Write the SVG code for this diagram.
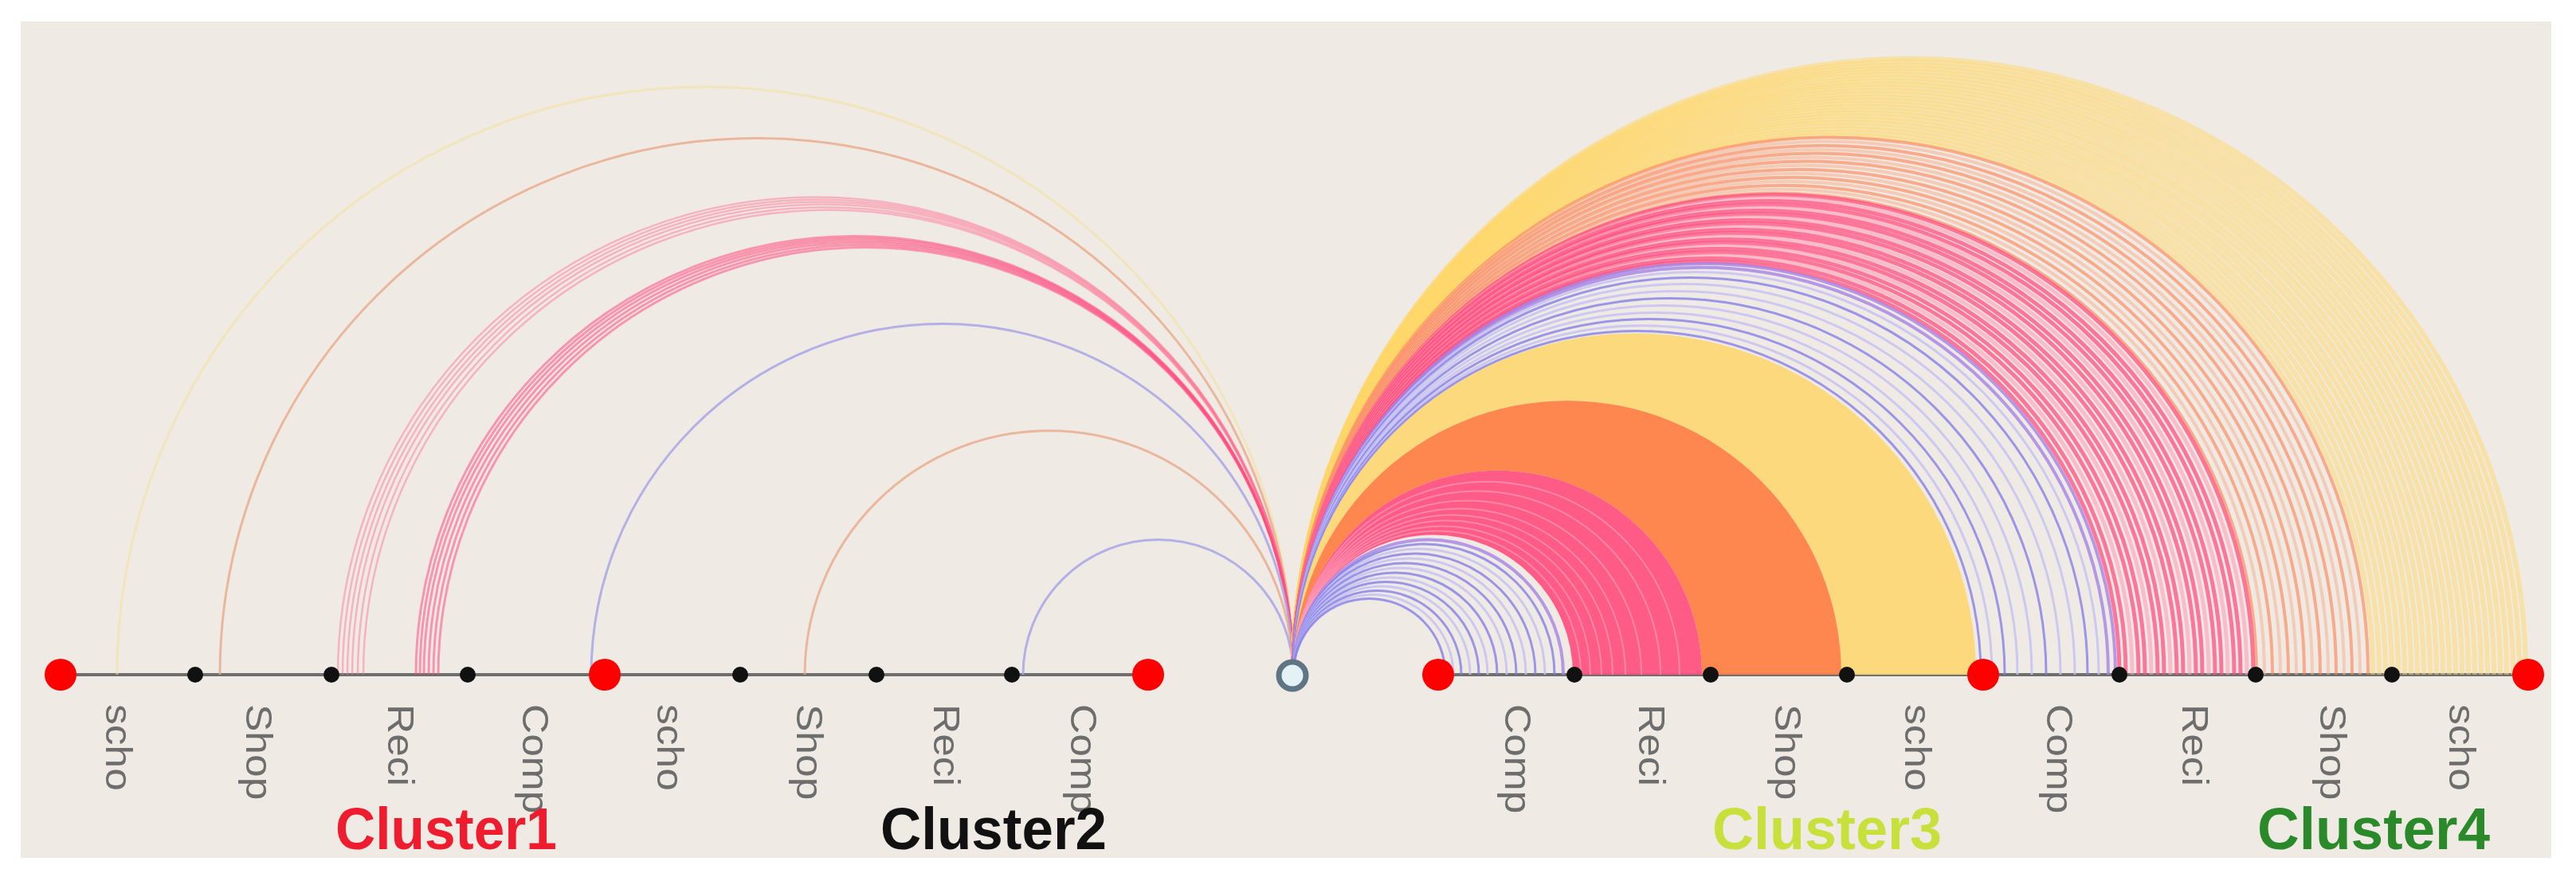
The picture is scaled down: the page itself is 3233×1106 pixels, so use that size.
<svg xmlns="http://www.w3.org/2000/svg" width="3233" height="1106" viewBox="0 0 3233 1106">
<style>
.lbl{font-family:"Liberation Sans",Arial,sans-serif;font-size:46px;fill:#6d6d6d}
.cl{font-family:"Liberation Sans",Arial,sans-serif;font-size:74px;font-weight:bold}
.red{fill:#ff0000}
.blk{fill:#111111}
path{fill:none}
.b{stroke:#7f78ea;stroke-width:3;stroke-opacity:.75}
.bl{stroke:#c4bff4;stroke-width:3;stroke-opacity:.8}
.bp{stroke:#a583e6;stroke-width:4;stroke-opacity:.8}
.p1{stroke:#ff4f7f;stroke-width:5;stroke-opacity:.75}
.p2{stroke:#ff9fb8;stroke-width:5;stroke-opacity:.6}
.ps{stroke:#ffa3bc;stroke-width:2;stroke-opacity:.6}
.o1{stroke:#ff7f50;stroke-width:4;stroke-opacity:.6}
.o2{stroke:#f5b08f;stroke-width:4;stroke-opacity:.55}
.y1{stroke:#ffd76a;stroke-width:6;stroke-opacity:.5}
.ly{stroke:#f3dfa0;stroke-width:3;stroke-opacity:.6}
.lo{stroke:#e8a584;stroke-width:3;stroke-opacity:.75}
.lp1{stroke:#ff6f93;stroke-width:2.5;stroke-opacity:.45}
.lp2{stroke:#ff4f7f;stroke-width:3;stroke-opacity:.55}
.lb{stroke:#a9a6e6;stroke-width:3;stroke-opacity:.85}
</style>
<rect x="0" y="0" width="3233" height="1106" fill="#ffffff"/>
<rect x="26" y="27" width="3176" height="1050" fill="#efebe4"/>
<g id="axis">
<line x1="76" y1="847" x2="1441" y2="847" stroke="#6e6e6e" stroke-width="4"/>
<line x1="1805" y1="847" x2="3173" y2="847" stroke="#6e6e6e" stroke-width="4"/>
</g>
<g id="connectors">
<!-- left side arcs -->
<path class="ly" d="M147 847A738 738 0 0 1 1623 847"/>
<path class="lo" d="M276 847A673.5 673.5 0 0 1 1623 847"/>
<path class="lp1" d="M424 847A599.5 599.5 0 0 1 1623 847"/>
<path class="lp1" d="M430 847A596.5 596.5 0 0 1 1623 847"/>
<path class="lp1" d="M436 847A593.5 593.5 0 0 1 1623 847"/>
<path class="lp1" d="M442 847A590.5 590.5 0 0 1 1623 847"/>
<path class="lp1" d="M449 847A587 587 0 0 1 1623 847"/>
<path class="lp1" d="M456 847A583.5 583.5 0 0 1 1623 847"/>
<path class="lp2" d="M522 847A550.5 550.5 0 0 1 1623 847"/>
<path class="lp2" d="M527 847A548 548 0 0 1 1623 847"/>
<path class="lp2" d="M532 847A545.5 545.5 0 0 1 1623 847"/>
<path class="lp2" d="M538 847A542.5 542.5 0 0 1 1623 847"/>
<path class="lp2" d="M544 847A539.5 539.5 0 0 1 1623 847"/>
<path class="lp2" d="M550 847A536.5 536.5 0 0 1 1623 847"/>
<path class="lb" d="M742 847A440.5 440.5 0 0 1 1623 847"/>
<path class="lo" d="M1010 847A306.5 306.5 0 0 1 1623 847"/>
<path class="lb" d="M1284 847A169.5 169.5 0 0 1 1623 847"/>
<!-- right side: outer yellow (cluster4 scho) -->
<path class="y1" d="M1623 847A773.5 773.5 0 0 1 3170 847"/>
<path class="y1" d="M1623 847A769.5 769.5 0 0 1 3162 847"/>
<path class="y1" d="M1623 847A765.5 765.5 0 0 1 3154 847"/>
<path class="y1" d="M1623 847A761.5 761.5 0 0 1 3146 847"/>
<path class="y1" d="M1623 847A757.5 757.5 0 0 1 3138 847"/>
<path class="y1" d="M1623 847A753.5 753.5 0 0 1 3130 847"/>
<path class="y1" d="M1623 847A749.5 749.5 0 0 1 3122 847"/>
<path class="y1" d="M1623 847A745.5 745.5 0 0 1 3114 847"/>
<path class="y1" d="M1623 847A741.5 741.5 0 0 1 3106 847"/>
<path class="y1" d="M1623 847A737.5 737.5 0 0 1 3098 847"/>
<path class="y1" d="M1623 847A733.5 733.5 0 0 1 3090 847"/>
<path class="y1" d="M1623 847A729.5 729.5 0 0 1 3082 847"/>
<path class="y1" d="M1623 847A725.5 725.5 0 0 1 3074 847"/>
<path class="y1" d="M1623 847A721.5 721.5 0 0 1 3066 847"/>
<path class="y1" d="M1623 847A717.5 717.5 0 0 1 3058 847"/>
<path class="y1" d="M1623 847A713.5 713.5 0 0 1 3050 847"/>
<path class="y1" d="M1623 847A709.5 709.5 0 0 1 3042 847"/>
<path class="y1" d="M1623 847A705.5 705.5 0 0 1 3034 847"/>
<path class="y1" d="M1623 847A701.5 701.5 0 0 1 3026 847"/>
<path class="y1" d="M1623 847A697.5 697.5 0 0 1 3018 847"/>
<path class="y1" d="M1623 847A693.5 693.5 0 0 1 3010 847"/>
<path class="y1" d="M1623 847A689.5 689.5 0 0 1 3002 847"/>
<path class="y1" d="M1623 847A685.5 685.5 0 0 1 2994 847"/>
<path class="y1" d="M1623 847A681.5 681.5 0 0 1 2986 847"/>
<path class="y1" d="M1623 847A677.5 677.5 0 0 1 2978 847"/>
<!-- cluster4 shop (orange) -->
<path class="o1" d="M1623 847A674.5 674.5 0 0 1 2972 847"/>
<path class="o2" d="M1623 847A669.5 669.5 0 0 1 2962 847"/>
<path class="o1" d="M1623 847A664.5 664.5 0 0 1 2952 847"/>
<path class="o2" d="M1623 847A659.5 659.5 0 0 1 2942 847"/>
<path class="o1" d="M1623 847A654.5 654.5 0 0 1 2932 847"/>
<path class="o2" d="M1623 847A649.5 649.5 0 0 1 2922 847"/>
<path class="o1" d="M1623 847A644.5 644.5 0 0 1 2912 847"/>
<path class="o2" d="M1623 847A639.5 639.5 0 0 1 2902 847"/>
<path class="o1" d="M1623 847A634.5 634.5 0 0 1 2892 847"/>
<path class="o2" d="M1623 847A629.5 629.5 0 0 1 2882 847"/>
<path class="o1" d="M1623 847A624.5 624.5 0 0 1 2872 847"/>
<path class="o2" d="M1623 847A619.5 619.5 0 0 1 2862 847"/>
<path class="o1" d="M1623 847A614.5 614.5 0 0 1 2852 847"/>
<path class="o2" d="M1623 847A609.5 609.5 0 0 1 2842 847"/>
<path class="o1" d="M1623 847A604.5 604.5 0 0 1 2832 847"/>
<!-- cluster4 reci (pink) -->
<path class="p1" d="M1623 847A602.5 602.5 0 0 1 2828 847"/>
<path class="p2" d="M1623 847A598.5 598.5 0 0 1 2820 847"/>
<path class="p1" d="M1623 847A594.5 594.5 0 0 1 2812 847"/>
<path class="p1" d="M1623 847A590.5 590.5 0 0 1 2804 847"/>
<path class="p2" d="M1623 847A586.5 586.5 0 0 1 2796 847"/>
<path class="p1" d="M1623 847A582.5 582.5 0 0 1 2788 847"/>
<path class="p1" d="M1623 847A578.5 578.5 0 0 1 2780 847"/>
<path class="p2" d="M1623 847A574.5 574.5 0 0 1 2772 847"/>
<path class="p1" d="M1623 847A570.5 570.5 0 0 1 2764 847"/>
<path class="p1" d="M1623 847A566.5 566.5 0 0 1 2756 847"/>
<path class="p2" d="M1623 847A562.5 562.5 0 0 1 2748 847"/>
<path class="p1" d="M1623 847A558.5 558.5 0 0 1 2740 847"/>
<path class="p1" d="M1623 847A554.5 554.5 0 0 1 2732 847"/>
<path class="p2" d="M1623 847A550.5 550.5 0 0 1 2724 847"/>
<path class="p1" d="M1623 847A546.5 546.5 0 0 1 2716 847"/>
<path class="p1" d="M1623 847A542.5 542.5 0 0 1 2708 847"/>
<path class="p2" d="M1623 847A538.5 538.5 0 0 1 2700 847"/>
<path class="p1" d="M1623 847A534.5 534.5 0 0 1 2692 847"/>
<path class="p1" d="M1623 847A530.5 530.5 0 0 1 2684 847"/>
<path class="p2" d="M1623 847A526.5 526.5 0 0 1 2676 847"/>
<path class="p1" d="M1623 847A522.5 522.5 0 0 1 2668 847"/>
<path class="p1" d="M1623 847A518.5 518.5 0 0 1 2660 847"/>
<!-- cluster4 comp (blue) -->
<path class="bp" d="M1623 847A516 516 0 0 1 2655 847"/>
<path class="bp" d="M1623 847A511.5 511.5 0 0 1 2646 847"/>
<path class="bl" d="M1623 847A505.5 505.5 0 0 1 2634 847"/>
<path class="b" d="M1623 847A498.5 498.5 0 0 1 2620 847"/>
<path class="bl" d="M1623 847A490.5 490.5 0 0 1 2604 847"/>
<path class="bl" d="M1623 847A481.5 481.5 0 0 1 2586 847"/>
<path class="b" d="M1623 847A472.5 472.5 0 0 1 2568 847"/>
<path class="bl" d="M1623 847A463.5 463.5 0 0 1 2550 847"/>
<path class="bl" d="M1623 847A454.5 454.5 0 0 1 2532 847"/>
<path class="b" d="M1623 847A446.5 446.5 0 0 1 2516 847"/>
<path class="bl" d="M1623 847A438.5 438.5 0 0 1 2500 847"/>
<path class="b" d="M1623 847A431.5 431.5 0 0 1 2486 847"/>
<!-- cluster3 solid bands -->
<path fill="#fdd775" fill-opacity=".93" style="fill:#fdd775" d="M1623 847A428.5 428.5 0 0 1 2480 847L2311 847A344 344 0 0 0 1623 847Z"/>
<path fill="#ff7f45" fill-opacity=".93" style="fill:#ff7f45" d="M1623 847A344 344 0 0 1 2311 847L2136 847A256.5 256.5 0 0 0 1623 847Z"/>
<path fill="#ff4f7f" fill-opacity=".92" style="fill:#ff4f7f" d="M1623 847A256.5 256.5 0 0 1 2136 847L1974 847A175.5 175.5 0 0 0 1623 847Z"/>
<path class="ps" d="M1623 847A180.5 180.5 0 0 1 1984 847"/>
<path class="ps" d="M1623 847A186.5 186.5 0 0 1 1996 847"/>
<path class="ps" d="M1623 847A193.5 193.5 0 0 1 2010 847"/>
<path class="ps" d="M1623 847A200.5 200.5 0 0 1 2024 847"/>
<path class="ps" d="M1623 847A208.5 208.5 0 0 1 2040 847"/>
<path class="ps" d="M1623 847A218.5 218.5 0 0 1 2060 847"/>
<path class="ps" d="M1623 847A230.5 230.5 0 0 1 2084 847"/>
<path class="ps" d="M1623 847A242.5 242.5 0 0 1 2108 847"/>
<!-- cluster3 comp (blue) -->
<path class="bp" d="M1623 847A169.5 169.5 0 0 1 1962 847"/>
<path class="b" d="M1623 847A164 164 0 0 1 1951 847"/>
<path class="bl" d="M1623 847A158 158 0 0 1 1939 847"/>
<path class="b" d="M1623 847A152 152 0 0 1 1927 847"/>
<path class="bl" d="M1623 847A146 146 0 0 1 1915 847"/>
<path class="b" d="M1623 847A140 140 0 0 1 1903 847"/>
<path class="bl" d="M1623 847A134 134 0 0 1 1891 847"/>
<path class="b" d="M1623 847A128 128 0 0 1 1879 847"/>
<path class="bl" d="M1623 847A122 122 0 0 1 1867 847"/>
<path class="b" d="M1623 847A116.5 116.5 0 0 1 1856 847"/>
<path class="bl" d="M1623 847A111 111 0 0 1 1845 847"/>
<path class="b" d="M1623 847A105.5 105.5 0 0 1 1834 847"/>
<path class="bl" d="M1623 847A100.5 100.5 0 0 1 1824 847"/>
<path class="b" d="M1623 847A95.5 95.5 0 0 1 1814 847"/>
</g>
<g id="cluster1">
<g id="n1-start"><circle class="red" cx="76" cy="847" r="20"/></g>
<g id="n1-scho"><text class="lbl" transform="translate(133 884) rotate(90) scale(1.12 1)">scho</text></g>
<g id="n1-shop"><circle class="blk" cx="245" cy="847" r="10"/><text class="lbl" transform="translate(309 884) rotate(90) scale(1.12 1)">Shop</text></g>
<g id="n1-reci"><circle class="blk" cx="416" cy="847" r="10"/><text class="lbl" transform="translate(487 884) rotate(90) scale(1.12 1)">Reci</text></g>
<g id="n1-comp"><circle class="blk" cx="587" cy="847" r="10"/><text class="lbl" transform="translate(656 884) rotate(90) scale(1.12 1)">Comp</text></g>
<text class="cl" x="421" y="1066" textLength="278" lengthAdjust="spacingAndGlyphs" fill="#ee1c2e">Cluster1</text>
</g>
<g id="cluster2">
<g id="n2-start"><circle class="red" cx="759" cy="847" r="20"/></g>
<g id="n2-scho"><text class="lbl" transform="translate(825 884) rotate(90) scale(1.12 1)">scho</text></g>
<g id="n2-shop"><circle class="blk" cx="929" cy="847" r="10"/><text class="lbl" transform="translate(1000 884) rotate(90) scale(1.12 1)">Shop</text></g>
<g id="n2-reci"><circle class="blk" cx="1100" cy="847" r="10"/><text class="lbl" transform="translate(1172 884) rotate(90) scale(1.12 1)">Reci</text></g>
<g id="n2-comp"><circle class="blk" cx="1270" cy="847" r="10"/><text class="lbl" transform="translate(1344 884) rotate(90) scale(1.12 1)">Comp</text></g>
<g id="n2-end"><circle class="red" cx="1441" cy="847" r="20"/></g>
<text class="cl" x="1105" y="1066" textLength="284" lengthAdjust="spacingAndGlyphs" fill="#111111">Cluster2</text>
</g>
<g id="center-node"><circle cx="1622" cy="848" r="17" fill="#e4f1f7" stroke="#5e7585" stroke-width="7"/></g>
<g id="cluster3">
<g id="n3-start"><circle class="red" cx="1805" cy="847" r="20"/></g>
<g id="n3-comp"><text class="lbl" transform="translate(1889 884) rotate(90) scale(1.12 1)">Comp</text></g>
<g id="n3-reci"><circle class="blk" cx="1976" cy="847" r="10"/><text class="lbl" transform="translate(2057 884) rotate(90) scale(1.12 1)">Reci</text></g>
<g id="n3-shop"><circle class="blk" cx="2147" cy="847" r="10"/><text class="lbl" transform="translate(2228 884) rotate(90) scale(1.12 1)">Shop</text></g>
<g id="n3-scho"><circle class="blk" cx="2318" cy="847" r="10"/><text class="lbl" transform="translate(2391 884) rotate(90) scale(1.12 1)">scho</text></g>
<g id="n3-end"><circle class="red" cx="2489" cy="847" r="20"/></g>
<text class="cl" x="2149" y="1066" textLength="288" lengthAdjust="spacingAndGlyphs" fill="#c8e03c">Cluster3</text>
</g>
<g id="cluster4">
<g id="n4-comp"><text class="lbl" transform="translate(2569 884) rotate(90) scale(1.12 1)">Comp</text></g>
<g id="n4-reci"><circle class="blk" cx="2660" cy="847" r="10"/><text class="lbl" transform="translate(2739 884) rotate(90) scale(1.12 1)">Reci</text></g>
<g id="n4-shop"><circle class="blk" cx="2831" cy="847" r="10"/><text class="lbl" transform="translate(2912 884) rotate(90) scale(1.12 1)">Shop</text></g>
<g id="n4-scho"><circle class="blk" cx="3002" cy="847" r="10"/><text class="lbl" transform="translate(3074 884) rotate(90) scale(1.12 1)">scho</text></g>
<g id="n4-end"><circle class="red" cx="3173" cy="847" r="20"/></g>
<text class="cl" x="2833" y="1066" textLength="292" lengthAdjust="spacingAndGlyphs" fill="#2a8a2a">Cluster4</text>
</g>
</svg>
